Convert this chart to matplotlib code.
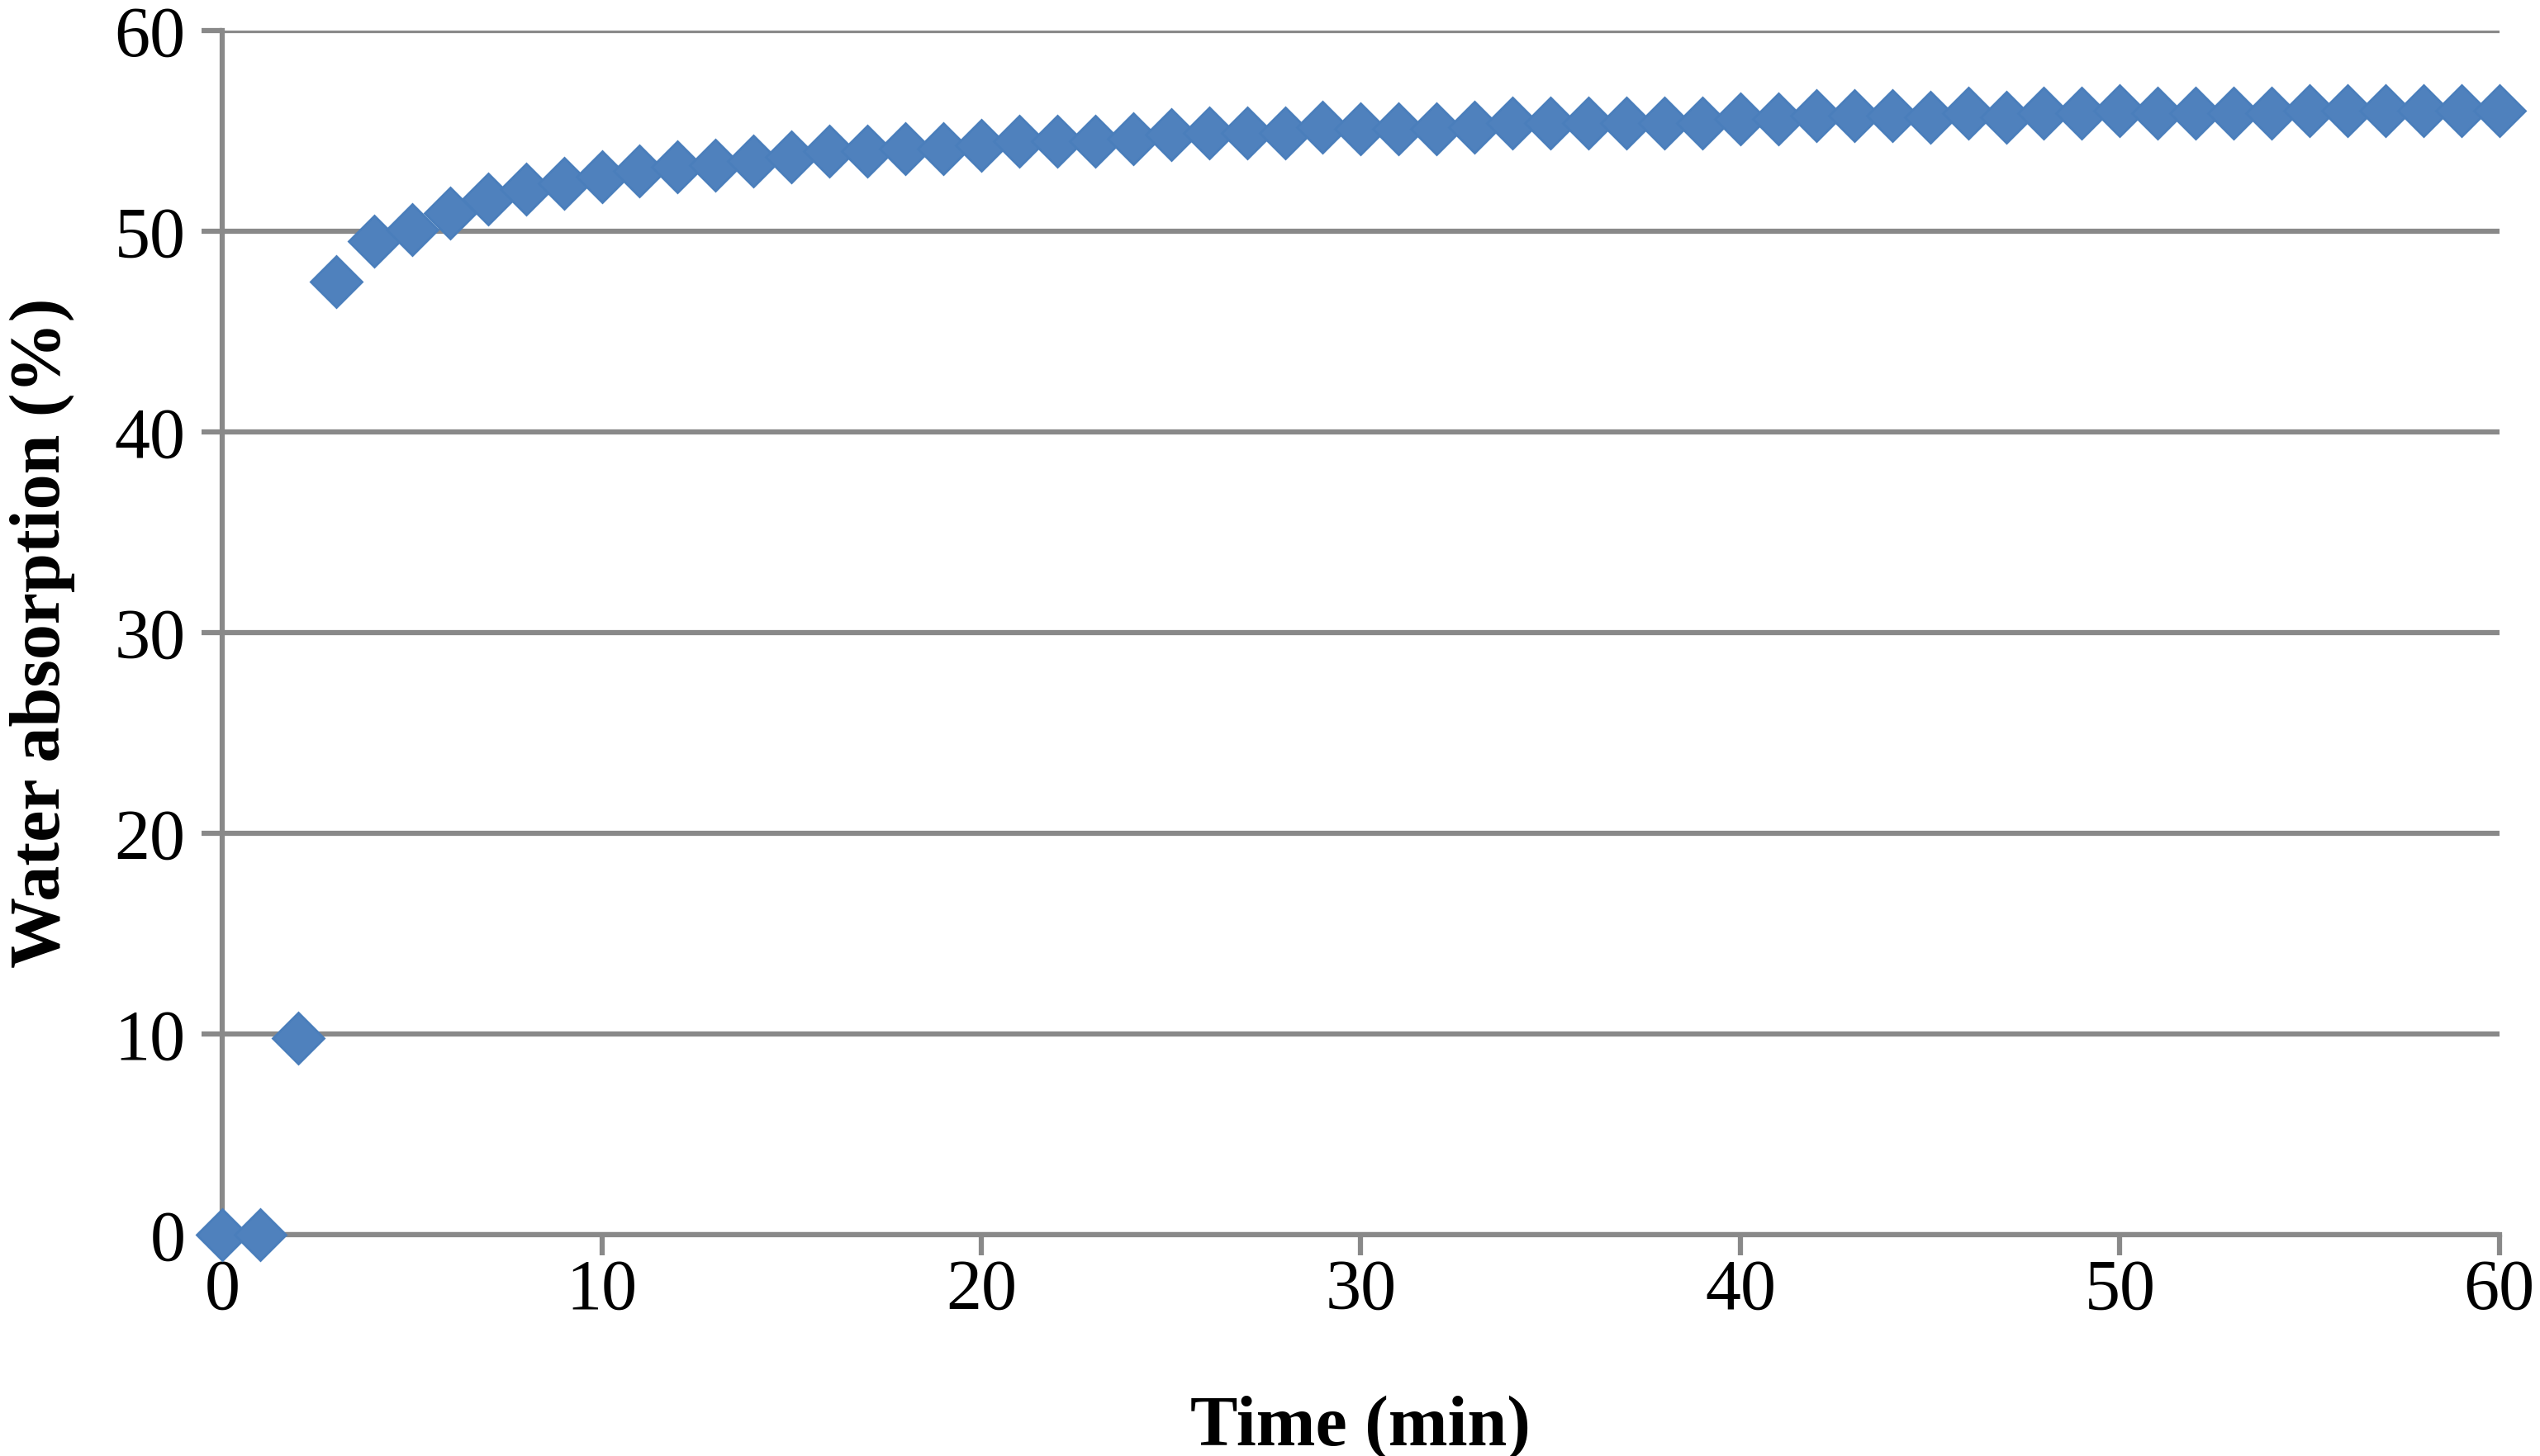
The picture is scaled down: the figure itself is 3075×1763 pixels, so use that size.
import numpy as np
import matplotlib

matplotlib.use("Agg")
import matplotlib.pyplot as plt

# water absorption (%), one point per minute
time_min = list(range(0, 61))
absorption = [
    0.0, 0.0, 9.8, 47.5, 49.5, 50.1, 50.9, 51.6, 52.1, 52.4,
    52.7, 53.0, 53.2, 53.3, 53.5, 53.7, 54.0, 54.0, 54.1, 54.1,
    54.3, 54.5, 54.5, 54.5, 54.6, 54.8, 54.9, 54.9, 54.9, 55.2,
    55.1, 55.1, 55.1, 55.2, 55.4, 55.4, 55.4, 55.4, 55.4, 55.4,
    55.6, 55.6, 55.75, 55.75, 55.75, 55.7, 55.9, 55.7, 55.9, 55.9,
    56.0, 55.9, 55.9, 55.9, 55.9, 56.0, 56.0, 56.0, 56.0, 56.0,
    56.0,
]
x_ticks = [0, 10, 20, 30, 40, 50, 60]
y_ticks = [0, 10, 20, 30, 40, 50, 60]

GRID = "#898989"
SERIF = ["Liberation Serif", "DejaVu Serif"]

fig = plt.figure(figsize=(30.75, 17.63), dpi=100)
ax = fig.add_axes([0.0875, 0.152, 0.8965, 0.827])

ax.plot(time_min, absorption, linestyle="none", marker="D", markersize=32,
        markerfacecolor="#4F81BD", markeredgecolor="#4A7EBB",
        markeredgewidth=2, clip_on=False, zorder=3)

ax.set_xlim(0, 60)
ax.set_ylim(0, 60)
ax.set_xticks(x_ticks)
ax.set_yticks(y_ticks)
ax.grid(axis="y", color=GRID, linewidth=4.5)
ax.set_axisbelow(True)

for side in ["top", "right"]:
    ax.spines[side].set_visible(False)
for side in ["left", "bottom"]:
    ax.spines[side].set_color(GRID)
    ax.spines[side].set_linewidth(4.5)

ax.tick_params(axis="both", direction="out", length=18, width=4.5,
               color=GRID, labelsize=62)
ax.tick_params(axis="x", pad=3)
ax.tick_params(axis="y", pad=14)
for lab in ax.get_xticklabels() + ax.get_yticklabels():
    lab.set_family(SERIF)

ax.set_xlabel("Time (min)", family=SERIF, fontweight="bold", fontsize=62,
              labelpad=62)
ax.set_ylabel("Water absorption (%)", family=SERIF, fontweight="bold",
              fontsize=62, labelpad=34)

fig.savefig("out.png", dpi=100, facecolor="white")
plt.close(fig)
